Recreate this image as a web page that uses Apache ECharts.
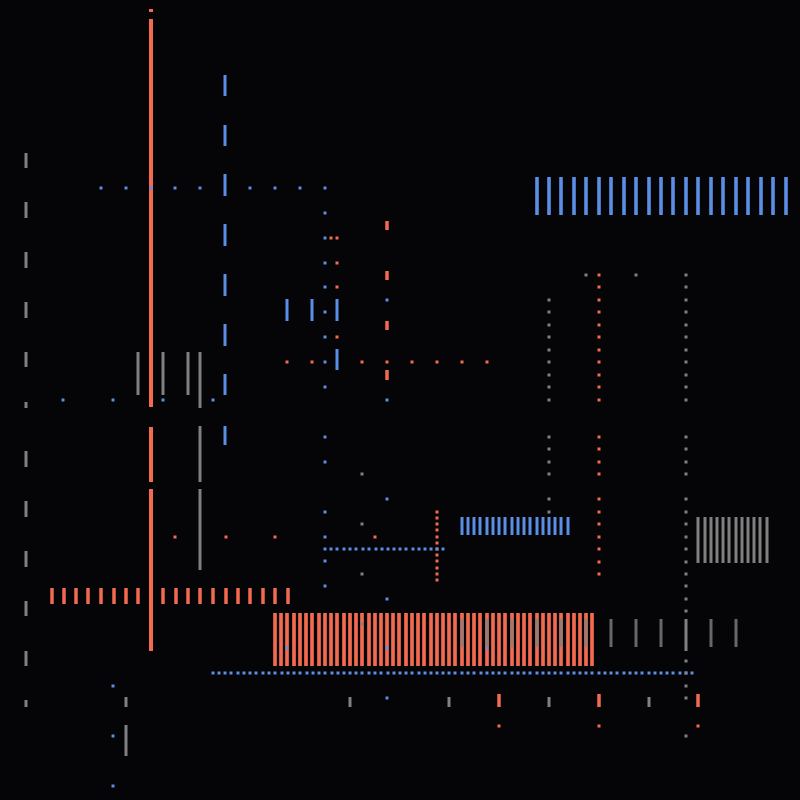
<!DOCTYPE html>
<html>
<head>
<meta charset="utf-8">
<script src="https://cdn.jsdelivr.net/npm/echarts@6/dist/echarts.min.js"></script>
<style>html,body{margin:0;padding:0;background:#050507;}#c{width:800px;height:800px;}</style>
</head>
<body>
<div id="c"></div>
<script>
// ---------- DATA (x, yTop, yBottom) in chart units; y grows downward ----------
// Orange
const orangeMainLine = [[151, 9, 12], [151, 19, 407], [151, 427, 482], [151, 489, 651]];
const orangeDashes = [[387, 221, 230], [387, 271, 280], [387, 321, 330], [387, 370, 380],
  [499, 694, 707], [599, 694, 707], [698, 694, 707]];
const orangeRowX = [52, 64, 76, 88, 101, 114, 126, 138, 163, 176, 188, 200, 213, 226, 238, 250, 263, 275, 288];
const orangeRowSpan = [588, 604];
const orangeBarsX = [275, 281, 287, 294, 300, 306, 312, 319, 325, 331, 337, 344, 350, 356, 362, 369, 375, 381, 387, 393,
  399, 406, 412, 418, 424, 431, 437, 443, 449, 455, 462, 468, 474, 480, 487, 493, 499, 505, 512, 518, 524, 530,
  537, 543, 549, 555, 561, 568, 574, 580, 586, 592];
const orangeBarsSpan = [613, 666];
const orangeDots = [[331, 238], [337, 238], [337, 263], [337, 287], [337, 337],
  [287, 362], [312, 362], [362, 362], [387, 362], [412, 362], [437, 362], [462, 362], [487, 362],
  [175, 537], [226, 537], [275, 537], [375, 537],
  [499, 726], [599, 726], [698, 726]];
const orangeCol437Y = [512, 518, 524, 530, 537, 543, 549, 555, 561, 568, 574, 580];
const orangeCol599Y = [275, 287, 300, 312, 325, 337, 350, 362, 375, 387, 400, 437, 449, 462, 474, 499, 512, 524, 537, 549, 562, 574];

// Blue
const blueDashes = [[225, 75, 96], [225, 125, 146], [225, 174, 196], [225, 224, 246], [225, 274, 296], [225, 324, 346],
  [225, 374, 395], [225, 426, 445], [287, 299, 321], [312, 299, 321], [337, 299, 321], [337, 349, 370]];
const blueTopBarsX = [537, 549, 561, 574, 586, 599, 611, 624, 636, 649, 661, 673, 686, 698, 711, 723, 736, 748, 761, 773, 786];
const blueTopBarsSpan = [177, 215];
const blueMidBarsX = [462, 468, 474, 480, 487, 493, 499, 505, 512, 518, 524, 530, 537, 543, 549, 555, 561, 568];
const blueMidBarsSpan = [517, 535];
const blueDots = [[101, 188], [126, 188], [151, 188], [175, 188], [200, 188], [250, 188], [275, 188], [300, 188], [325, 188],
  [63, 400], [113, 400], [163, 400], [213, 400], [387, 400],
  [387, 300], [387, 499], [387, 599], [387, 648], [387, 698], [287, 648], [487, 648],
  [113, 686], [113, 736], [113, 786]];
const blueCol325Y = [213, 238, 263, 287, 312, 337, 362, 387, 437, 462, 512, 537, 561, 586];
const blueRow549X = [325, 331, 337, 344, 350, 356, 363, 369, 376, 382, 388, 394, 400, 406, 413, 419, 425, 431, 437, 443];
const blueRow673X = [213, 219, 225, 231, 238, 244, 250, 256, 263, 269, 275, 282, 288, 294, 300, 307, 313, 319, 325, 332,
  338, 344, 350, 356, 362, 369, 375, 381, 388, 394, 400, 406, 412, 419, 425, 431, 437, 443, 449, 455, 462, 468, 474,
  481, 487, 493, 499, 505, 512, 518, 524, 530, 537, 543, 549, 555, 561, 568, 574, 580, 586, 592, 599, 605, 611, 617,
  624, 630, 636, 642, 649, 655, 661, 667, 673, 680, 686, 692];

// Gray
const grayDashes = [[26, 153, 168], [26, 202, 218], [26, 252, 268], [26, 302, 318], [26, 352, 367], [26, 402, 408],
  [26, 451, 467], [26, 501, 517], [26, 551, 567], [26, 601, 616], [26, 651, 666], [26, 700, 707],
  [138, 352, 395], [163, 352, 395], [188, 352, 395], [200, 352, 408], [200, 426, 482], [200, 489, 570],
  [686, 619, 651], [126, 725, 756]];
const grayRightBarsX = [698, 705, 711, 717, 723, 729, 736, 742, 748, 754, 760, 767];
const grayRightBarsSpan = [517, 563];
const grayMidDashX = [462, 487, 512, 537, 561, 586, 611, 636, 661, 711, 736];
const grayMidDashSpan = [619, 647];
const grayLowDashX = [126, 350, 449, 549, 649];
const grayLowDashSpan = [697, 707];
const grayDots = [[586, 275], [636, 275], [362, 474], [362, 524], [362, 574], [362, 624]];
const grayCol549Y = [300, 312, 325, 337, 350, 362, 375, 387, 400, 437, 449, 462, 474, 499, 512];
const grayCol686Y = [275, 287, 300, 312, 325, 337, 350, 362, 375, 387, 400, 437, 449, 462, 474, 499, 512, 524, 537, 549,
  562, 574, 586, 599, 611, 661, 673, 686, 698, 736];

// ---------- helpers ----------
const ORANGE = '#f26a4f', BLUE = '#5b8fe6', GRAY = '#808080';
const segsFromX = (xs, span) => xs.map(x => [x, span[0], span[1]]);
const dotsFromCol = (x, ys) => ys.map(y => [x, y]);
const dotsFromRow = (y, xs) => xs.map(x => [x, y]);

function segSeries(data, color, w, op) {
  return {
    type: 'custom', data: data, silent: true,
    renderItem: function (params, api) {
      const p1 = api.coord([api.value(0), api.value(1)]);
      const p2 = api.coord([api.value(0), api.value(2)]);
      return { type: 'rect', shape: { x: p1[0] - w / 2, y: Math.min(p1[1], p2[1]), width: w, height: Math.abs(p2[1] - p1[1]) },
        style: { fill: color, opacity: op == null ? 1 : op } };
    }
  };
}
function dotSeries(data, color, s) {
  return {
    type: 'custom', data: data, silent: true,
    renderItem: function (params, api) {
      const p = api.coord([api.value(0), api.value(1)]);
      return { type: 'rect', shape: { x: p[0] - s / 2, y: p[1] - s / 2, width: s, height: s }, style: { fill: color } };
    }
  };
}

const chart = echarts.init(document.getElementById('c'), null, { renderer: 'canvas' });
chart.setOption({
  backgroundColor: '#050507',
  animation: false,
  grid: { left: 0, right: 0, top: 0, bottom: 0 },
  xAxis: { type: 'value', min: 0, max: 800, show: false },
  yAxis: { type: 'value', min: 0, max: 800, inverse: true, show: false },
  series: [
    segSeries(orangeMainLine, ORANGE, 4),
    segSeries(orangeDashes, ORANGE, 3.5),
    segSeries(segsFromX(orangeRowX, orangeRowSpan), ORANGE, 3.5),
    segSeries(segsFromX(orangeBarsX, orangeBarsSpan), ORANGE, 3.7),
    dotSeries(orangeDots.concat(dotsFromCol(437, orangeCol437Y), dotsFromCol(599, orangeCol599Y)), ORANGE, 3),
    segSeries(blueDashes, BLUE, 3),
    segSeries(segsFromX(blueTopBarsX, blueTopBarsSpan), BLUE, 3.6),
    segSeries(segsFromX(blueMidBarsX, blueMidBarsSpan), BLUE, 3),
    dotSeries(blueDots.concat(dotsFromCol(325, blueCol325Y), dotsFromRow(549, blueRow549X), dotsFromRow(673, blueRow673X)), BLUE, 3),
    segSeries(grayDashes, GRAY, 3),
    segSeries(segsFromX(grayRightBarsX, grayRightBarsSpan), GRAY, 3),
    segSeries(segsFromX(grayMidDashX, grayMidDashSpan), GRAY, 3, 0.8),
    segSeries(segsFromX(grayLowDashX, grayLowDashSpan), GRAY, 3),
    dotSeries(grayDots.concat(dotsFromCol(549, grayCol549Y), dotsFromCol(686, grayCol686Y)), GRAY, 3)
  ]
});
</script>
</body>
</html>
